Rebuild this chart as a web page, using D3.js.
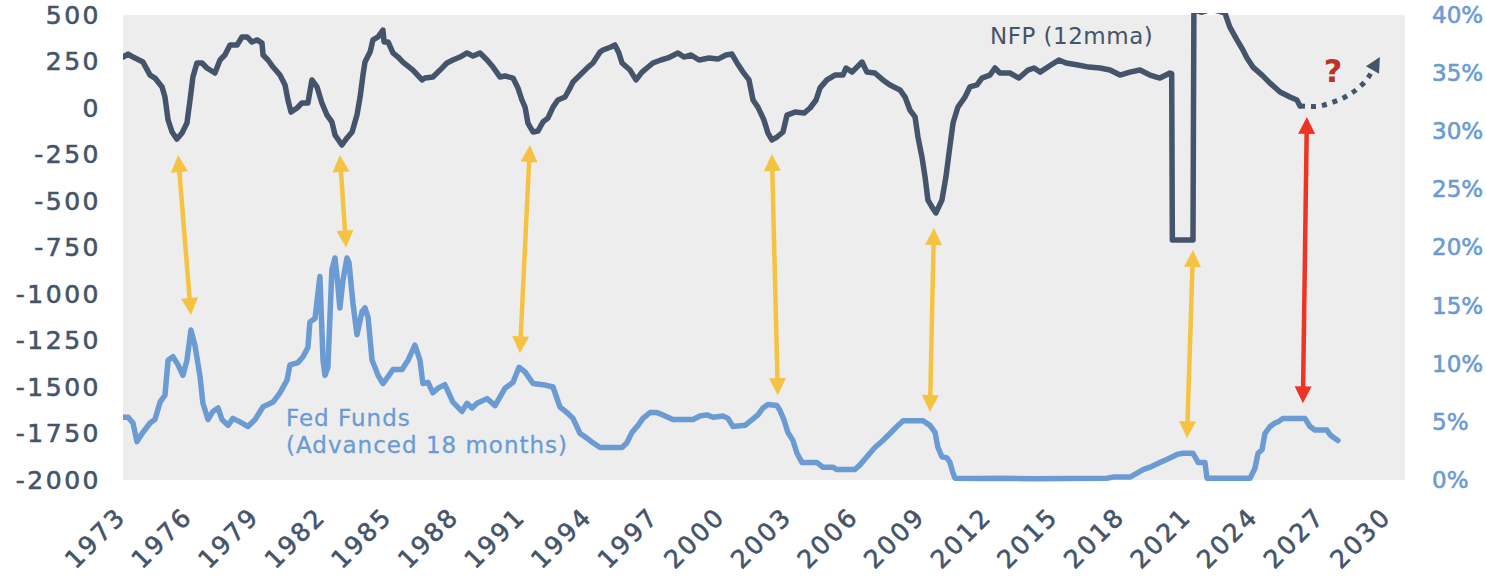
<!DOCTYPE html>
<html>
<head>
<meta charset="utf-8">
<script src="https://cdn.jsdelivr.net/npm/d3@7"></script>
<style>
body{margin:0;background:#fff;}
text{font-family:"DejaVu Sans",sans-serif;}
</style>
</head>
<body>
<div id="chart"></div>
<script>

// NFP, 12 month moving average (thousands), [year, value]
const nfp = [[1973.00,274],[1973.23,290],[1973.45,274],[1973.90,247],[1974.22,177],[1974.44,161],[1974.76,113],[1974.89,59],[1975.03,-64],[1975.21,-129],[1975.43,-167],[1975.66,-134],[1975.88,-81],[1976.02,43],[1976.15,167],[1976.33,242],[1976.56,242],[1976.78,215],[1977.14,188],[1977.37,258],[1977.59,285],[1977.82,339],[1978.14,339],[1978.36,382],[1978.59,382],[1978.81,355],[1979.04,366],[1979.26,349],[1979.31,285],[1979.53,258],[1979.76,220],[1980.07,177],[1980.30,124],[1980.43,43],[1980.57,-22],[1980.84,0],[1981.06,27],[1981.33,27],[1981.51,151],[1981.74,113],[1981.96,27],[1982.19,-38],[1982.41,-75],[1982.55,-145],[1982.86,-199],[1983.09,-161],[1983.32,-129],[1983.54,-38],[1983.68,59],[1983.81,177],[1983.90,247],[1984.13,301],[1984.26,366],[1984.49,382],[1984.71,419],[1984.76,355],[1984.94,355],[1985.16,296],[1985.39,274],[1985.61,247],[1986.06,204],[1986.47,151],[1986.60,161],[1986.96,167],[1987.28,204],[1987.59,242],[1987.86,258],[1988.18,274],[1988.50,296],[1988.77,279],[1989.08,296],[1989.40,258],[1989.67,220],[1989.98,167],[1990.21,172],[1990.57,161],[1990.79,108],[1990.97,43],[1991.11,5],[1991.24,-81],[1991.47,-129],[1991.69,-124],[1991.92,-75],[1992.14,-54],[1992.37,5],[1992.59,43],[1992.91,59],[1993.14,108],[1993.27,140],[1993.59,177],[1993.95,220],[1994.17,242],[1994.49,301],[1994.62,312],[1994.98,328],[1995.16,339],[1995.34,296],[1995.48,242],[1995.84,204],[1996.11,151],[1996.38,193],[1996.60,215],[1996.87,242],[1997.23,258],[1997.55,269],[1998.00,296],[1998.27,274],[1998.59,285],[1998.95,258],[1999.40,269],[1999.80,263],[2000.16,285],[2000.43,290],[2000.66,242],[2000.93,193],[2001.20,151],[2001.38,43],[2001.60,5],[2001.87,-64],[2002.05,-134],[2002.23,-172],[2002.46,-156],[2002.73,-129],[2002.91,-38],[2003.27,-22],[2003.68,-27],[2003.95,0],[2004.22,43],[2004.40,108],[2004.71,151],[2005.07,177],[2005.43,177],[2005.57,215],[2005.84,193],[2006.29,247],[2006.51,193],[2006.87,188],[2007.23,151],[2007.55,124],[2008.00,97],[2008.23,59],[2008.45,-11],[2008.68,-48],[2008.81,-156],[2008.99,-263],[2009.13,-371],[2009.26,-495],[2009.44,-532],[2009.62,-564],[2009.89,-495],[2010.07,-371],[2010.21,-242],[2010.39,-81],[2010.61,5],[2010.93,59],[2011.15,113],[2011.47,124],[2011.69,161],[2012.05,177],[2012.28,215],[2012.50,188],[2012.95,188],[2013.36,161],[2013.77,204],[2014.04,215],[2014.31,193],[2014.80,231],[2015.16,258],[2015.48,242],[2016.02,231],[2016.51,220],[2017.01,215],[2017.46,204],[2017.91,177],[2018.36,193],[2018.81,204],[2019.26,177],[2019.71,161],[2020.16,188],[2020.24,185],[2020.27,-710],[2021.20,-710],[2021.24,525],[2021.60,515],[2022.00,530],[2022.40,520],[2022.64,510],[2022.86,435],[2023.18,366],[2023.45,312],[2023.63,269],[2023.90,220],[2024.31,177],[2024.67,134],[2025.12,86],[2025.57,59],[2025.88,43],[2026.02,11]];

// Fed Funds rate advanced 18 months (%), [year, value]
const fedFunds = [[1973.00,5.4],[1973.23,5.4],[1973.45,4.9],[1973.63,3.3],[1973.86,4.0],[1974.22,4.9],[1974.44,5.2],[1974.67,6.7],[1974.89,7.3],[1975.03,10.3],[1975.25,10.6],[1975.48,9.9],[1975.70,9.0],[1975.88,10.3],[1976.06,12.9],[1976.24,11.6],[1976.47,8.9],[1976.60,6.6],[1976.83,5.2],[1977.05,5.9],[1977.28,6.2],[1977.46,5.2],[1977.73,4.7],[1977.95,5.3],[1978.27,5.0],[1978.63,4.6],[1978.95,5.2],[1979.31,6.3],[1979.76,6.7],[1980.07,7.5],[1980.39,8.6],[1980.52,9.9],[1980.88,10.1],[1981.11,10.6],[1981.33,11.4],[1981.42,13.6],[1981.65,13.9],[1981.87,17.5],[1982.01,10.3],[1982.10,9.0],[1982.23,9.7],[1982.41,18.1],[1982.55,19.1],[1982.64,17.5],[1982.77,14.8],[1982.91,17.2],[1983.09,19.1],[1983.18,18.7],[1983.36,15.2],[1983.54,12.5],[1983.77,14.5],[1983.90,14.8],[1984.04,14.0],[1984.22,10.3],[1984.35,9.7],[1984.49,9.0],[1984.71,8.3],[1984.94,8.9],[1985.16,9.5],[1985.57,9.5],[1985.84,10.3],[1986.15,11.6],[1986.38,10.3],[1986.51,8.3],[1986.74,8.4],[1986.96,7.5],[1987.19,7.9],[1987.50,8.2],[1987.86,6.7],[1988.27,5.9],[1988.50,6.6],[1988.72,6.2],[1988.95,6.6],[1989.40,7.0],[1989.76,6.4],[1990.21,7.9],[1990.57,8.4],[1990.84,9.7],[1991.11,9.3],[1991.47,8.3],[1991.92,8.2],[1992.37,8.0],[1992.68,6.3],[1993.00,5.8],[1993.27,5.3],[1993.59,4.0],[1993.90,3.6],[1994.17,3.2],[1994.49,2.8],[1995.48,2.8],[1995.70,3.2],[1995.93,4.1],[1996.20,4.7],[1996.42,5.3],[1996.74,5.8],[1997.05,5.8],[1997.32,5.6],[1997.77,5.2],[1998.68,5.2],[1998.99,5.5],[1999.31,5.6],[1999.58,5.4],[2000.03,5.5],[2000.25,5.3],[2000.48,4.6],[2001.02,4.7],[2001.34,5.2],[2001.60,5.6],[2001.83,6.2],[2002.05,6.5],[2002.46,6.4],[2002.59,6.0],[2002.77,5.2],[2002.95,4.1],[2003.18,3.4],[2003.36,2.3],[2003.59,1.5],[2004.26,1.5],[2004.53,1.1],[2004.98,1.1],[2005.16,0.9],[2005.97,0.9],[2006.20,1.3],[2006.51,2.0],[2006.87,2.8],[2007.23,3.4],[2007.55,4.0],[2007.86,4.6],[2008.14,5.1],[2009.04,5.1],[2009.35,4.7],[2009.58,4.1],[2009.71,2.8],[2009.89,2.0],[2010.12,1.9],[2010.25,1.5],[2010.39,0.6],[2010.48,0.15],[2011.50,0.12],[2012.50,0.15],[2014.00,0.1],[2015.50,0.12],[2017.32,0.15],[2017.59,0.25],[2018.36,0.25],[2018.68,0.6],[2018.95,0.9],[2019.26,1.1],[2019.71,1.5],[2020.16,1.9],[2020.48,2.2],[2020.75,2.3],[2021.20,2.3],[2021.44,1.5],[2021.74,1.5],[2021.83,0.15],[2023.77,0.15],[2023.99,1.0],[2024.13,2.3],[2024.31,2.6],[2024.44,4.0],[2024.67,4.6],[2024.89,4.9],[2025.03,5.0],[2025.25,5.3],[2026.24,5.3],[2026.47,4.6],[2026.69,4.3],[2027.23,4.3],[2027.37,3.9],[2027.50,3.7],[2027.73,3.4]];

// hand drawn outlook for NFP
const nfpOutlook = [[2026.02,11],[2026.70,8],[2027.40,27],[2028.05,59],[2028.65,108],[2029.10,165],[2029.62,274]];

// double arrows: [year at NFP end, NFP value, year at FF end, FF value]
const yellowArrows = [[1975.48,-253,1976.06,14.2],[1982.77,-253,1983.05,20.0],[1991.33,-199,1990.88,10.9],[2002.23,-247,2002.50,7.3],[2009.53,-645,2009.35,5.85],[2021.20,-763,2020.93,3.6]];
const redArrows = [[2026.33,-48,2026.15,6.6]];

const nfpTicks = [500,250,0,-250,-500,-750,-1000,-1250,-1500,-1750,-2000];
const pctTicks = [0,5,10,15,20,25,30,35,40];
const yearTicks = [1973,1976,1979,1982,1985,1988,1991,1994,1997,2000,2003,2006,2009,2012,2015,2018,2021,2024,2027,2030];

const w = 1486, h = 578;
const pLeft = 123, pRight = 1405, pTop = 15, pBottom = 480;
const dark = '#44546A', blue = '#6B9BD3', gold = '#F6C242', red = '#EE3524';

const x = d3.scaleLinear().domain([1973, 2030.75]).range([pLeft, pRight]);
const yL = d3.scaleLinear().domain([-2000, 500]).range([pBottom, pTop]);
const yR = d3.scaleLinear().domain([0, 40]).range([pBottom, pTop]);

const svg = d3.select('#chart').append('svg')
    .attr('width', w)
    .attr('height', h);

svg.append('rect')
    .attr('x', pLeft).attr('y', pTop)
    .attr('width', pRight - pLeft).attr('height', pBottom - pTop)
    .attr('fill', '#EDEDED');

svg.append('clipPath').attr('id', 'plotclip')
    .append('rect')
    .attr('x', pLeft).attr('y', pTop - 2)
    .attr('width', pRight - pLeft).attr('height', pBottom - pTop + 4);

// axes
const axisLeft = svg.append('g')
    .attr('transform', 'translate(' + pLeft + ',0)')
    .call(d3.axisLeft(yL).tickValues(nfpTicks).tickSize(0).tickPadding(22).tickFormat(function(d){ return String(d); }));

const axisRight = svg.append('g')
    .attr('transform', 'translate(' + pRight + ',0)')
    .call(d3.axisRight(yR).tickValues(pctTicks).tickSize(0).tickPadding(27).tickFormat(function(d){ return d + '%'; }));

const axisBottom = svg.append('g')
    .attr('transform', 'translate(0,' + pBottom + ')')
    .call(d3.axisBottom(x).tickValues(yearTicks).tickSize(0).tickFormat(function(d){ return String(d); }));

[axisLeft, axisRight, axisBottom].forEach(function(a){
    a.select('.domain').remove();
    a.selectAll('text')
        .style('font-family', '"DejaVu Sans", sans-serif')
        .style('font-size', '25px')
        .style('letter-spacing', '2.5px')
        .attr('stroke-width', 0.6);
});
axisLeft.selectAll('text').attr('fill', dark).attr('stroke', dark);
// right labels kept a little smaller so they stay inside the page
axisRight.selectAll('text').attr('fill', blue).attr('stroke', blue)
    .style('font-size', '23px')
    .style('letter-spacing', '0px');
axisBottom.selectAll('text')
    .attr('fill', dark).attr('stroke', dark)
    .attr('x', 0).attr('y', 0).attr('dy', 0)
    .attr('text-anchor', 'end')
    .attr('transform', 'translate(4,38) rotate(-45)');

// series
const plot = svg.append('g').attr('clip-path', 'url(#plotclip)');

const lineL = d3.line().x(function(d){ return x(d[0]); }).y(function(d){ return yL(d[1]); });
const lineR = d3.line().x(function(d){ return x(d[0]); }).y(function(d){ return yR(d[1]); });

plot.append('path')
    .datum(fedFunds)
    .attr('d', lineR)
    .attr('fill', 'none')
    .attr('stroke', blue)
    .attr('stroke-width', 5.5)
    .attr('stroke-linejoin', 'round')
    .attr('stroke-linecap', 'round');

plot.append('path')
    .datum(nfp)
    .attr('d', lineL)
    .attr('fill', 'none')
    .attr('stroke', dark)
    .attr('stroke-width', 5.5)
    .attr('stroke-linejoin', 'round')
    .attr('stroke-linecap', 'round');

// outlook: dotted curve with arrow head
function head(g, tipX, tipY, ux, uy, len, half, color){
    g.append('path')
        .attr('d', d3.line()([
            [tipX, tipY],
            [tipX - ux*len - uy*half, tipY - uy*len + ux*half],
            [tipX - ux*len + uy*half, tipY - uy*len - ux*half]
        ]))
        .attr('fill', color);
}

const n = nfpOutlook.length;
const tip = [x(nfpOutlook[n-1][0]), yL(nfpOutlook[n-1][1])];
const prev = [x(nfpOutlook[n-2][0]), yL(nfpOutlook[n-2][1])];
let ol = Math.hypot(tip[0]-prev[0], tip[1]-prev[1]);
let oux = (tip[0]-prev[0])/ol, ouy = (tip[1]-prev[1])/ol;
const outlookLine = nfpOutlook.slice(0, n-1).map(function(d){ return [x(d[0]), yL(d[1])]; });
outlookLine.push([tip[0] - oux*13, tip[1] - ouy*13]);
svg.append('path')
    .attr('d', d3.line().curve(d3.curveMonotoneX)(outlookLine))
    .attr('fill', 'none')
    .attr('stroke', dark)
    .attr('stroke-width', 5)
    .attr('stroke-dasharray', '5,6');
head(svg, tip[0], tip[1], oux, ouy, 15, 7.5, dark);

// double headed arrows between the two series
function doubleArrow(a, color){
    const x1 = x(a[0]), y1 = yL(a[1]), x2 = x(a[2]), y2 = yR(a[3]);
    const len = Math.hypot(x2-x1, y2-y1);
    const ux = (x2-x1)/len, uy = (y2-y1)/len;
    const hl = 17;
    svg.append('line')
        .attr('x1', x1 + ux*(hl-2)).attr('y1', y1 + uy*(hl-2))
        .attr('x2', x2 - ux*(hl-2)).attr('y2', y2 - uy*(hl-2))
        .attr('stroke', color)
        .attr('stroke-width', 4.5);
    head(svg, x1, y1, -ux, -uy, hl, 8.5, color);
    head(svg, x2, y2, ux, uy, hl, 8.5, color);
}
yellowArrows.forEach(function(a){ doubleArrow(a, gold); });
redArrows.forEach(function(a){ doubleArrow(a, red); });

// labels
svg.append('text')
    .attr('x', 990).attr('y', 44)
    .attr('fill', dark)
    .style('font-size', '23px')
    .style('letter-spacing', '0.5px')
    .text('NFP (12mma)');

svg.selectAll('fflabel')
    .data(['Fed Funds', '(Advanced 18 months)'])
    .enter()
    .append('text')
    .attr('x', 286)
    .attr('y', function(d, i){ return 426 + 27*i; })
    .attr('fill', blue)
    .attr('stroke', blue)
    .attr('stroke-width', 0.3)
    .style('font-size', '23px')
    .style('letter-spacing', '1px')
    .text(function(d){ return d; });

svg.append('text')
    .attr('x', 1333).attr('y', 82)
    .attr('text-anchor', 'middle')
    .attr('fill', '#B8342A')
    .style('font-size', '32px')
    .style('font-weight', 'bold')
    .text('?');

</script>
</body>
</html>
